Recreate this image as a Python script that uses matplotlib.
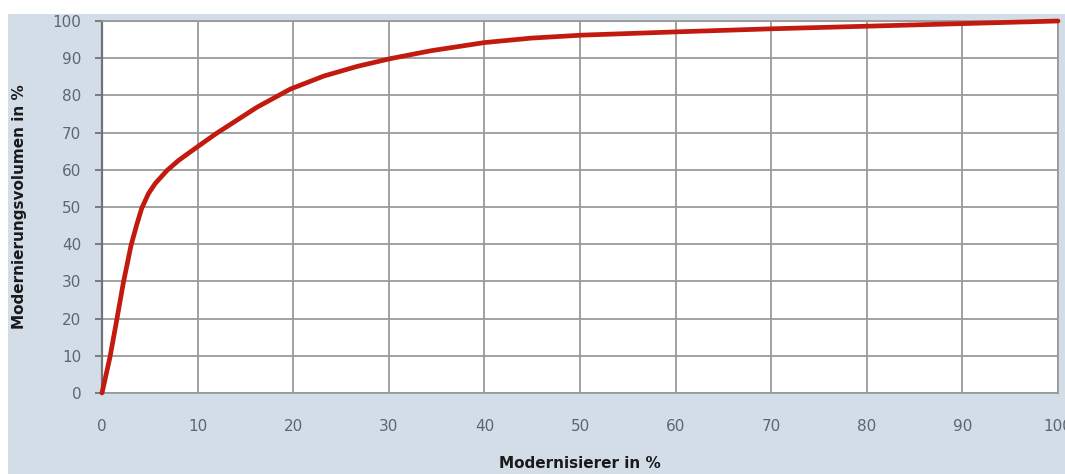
import matplotlib.pyplot as plt
from matplotlib.patches import Rectangle

# Anteil der Modernisierer (x) gegen kumuliertes Modernisierungsvolumen (y)
modernisierer = [0, 0.84, 1.54, 2.23, 3.04, 3.64, 4.16, 4.86, 5.56, 6.79, 8.0, 9.23,
                 11.86, 16.2, 19.7, 23.2, 26.7, 30.2, 34.4, 40, 44.9, 50.2, 60.3,
                 70, 80, 90, 100]
volumen = [0, 9.7, 19.6, 29.6, 39.7, 45.3, 49.7, 53.6, 56.3, 59.8, 62.5, 64.8,
           69.6, 76.8, 81.7, 85.2, 87.8, 89.9, 92.0, 94.2, 95.4, 96.2, 97.1,
           97.9, 98.6, 99.3, 100]

x_ticks = list(range(0, 101, 10))
y_ticks = list(range(0, 101, 10))

W, H = 1065, 474
fig = plt.figure(figsize=(W / 100, H / 100), dpi=100)
fig.patch.set_facecolor('white')
# hellblauer Hintergrundrahmen
fig.patches.append(Rectangle((8 / W, 0), 1, 1 - 14 / H, transform=fig.transFigure,
                             facecolor='#d3dde8', edgecolor='none', zorder=-10))

ax = fig.add_axes([102 / W, 1 - 393 / H, (1058 - 102) / W, (393 - 21) / H])
ax.set_zorder(1)
ax.set_facecolor('white')

ax.plot(modernisierer, volumen, color='#c21a0f', linewidth=3.4, solid_capstyle='round',
        solid_joinstyle='round', zorder=3, clip_on=False)

ax.set_xlim(0, 100)
ax.set_ylim(0, 100)
ax.set_xticks(x_ticks)
ax.set_yticks(y_ticks)
ax.grid(True, color='#9a9a9a', linewidth=1.3)
ax.set_axisbelow(True)

for side in ['top', 'right', 'bottom']:
    ax.spines[side].set_color('#9a9a9a')
    ax.spines[side].set_linewidth(1.3)
ax.spines['left'].set_color('#6f747a')
ax.spines['left'].set_linewidth(1.6)

ax.tick_params(axis='y', direction='out', length=5, width=1.3, color='#6f747a',
               pad=10, labelsize=11, labelcolor='#5d6670')
ax.tick_params(axis='x', length=0, pad=19, labelsize=11, labelcolor='#5d6670')

ax.set_ylabel('Modernierungsvolumen in %', fontsize=11, fontweight='bold',
              color='#1a1a1a', labelpad=18)
ax.set_xlabel('Modernisierer in %', fontsize=11, fontweight='bold', color='#1a1a1a')
ax.xaxis.set_label_coords(0.5, (393 - 456) / (393 - 21))

fig.savefig('out.png', dpi=100, facecolor=fig.get_facecolor())
